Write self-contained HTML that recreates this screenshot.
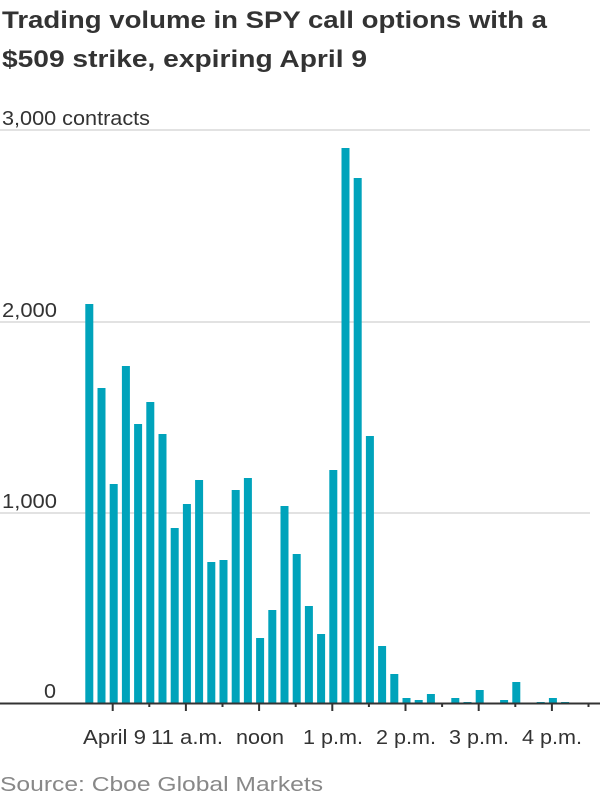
<!DOCTYPE html>
<html><head><meta charset="utf-8"><style>html,body{margin:0;padding:0;background:#fff;}svg{display:block}</style></head>
<body>
<svg width="600" height="800" viewBox="0 0 600 800" xmlns="http://www.w3.org/2000/svg" font-family="Liberation Sans, sans-serif">
<text x="2" y="28" font-size="24" font-weight="bold" fill="#333" textLength="545" lengthAdjust="spacingAndGlyphs">Trading volume in SPY call options with a</text>
<text x="2" y="67" font-size="24" font-weight="bold" fill="#333" textLength="365" lengthAdjust="spacingAndGlyphs">$509 strike, expiring April 9</text>
<g stroke="#e2e2e2" stroke-width="2">
<line x1="0" y1="130" x2="590" y2="130"/>
<line x1="0" y1="322" x2="590" y2="322"/>
<line x1="0" y1="513" x2="590" y2="513"/>
</g>
<g font-size="20" fill="#333">
<text x="2" y="125" textLength="148" lengthAdjust="spacingAndGlyphs">3,000 contracts</text>
<text x="2" y="317" textLength="55" lengthAdjust="spacingAndGlyphs">2,000</text>
<text x="2" y="508" textLength="55" lengthAdjust="spacingAndGlyphs">1,000</text>
<text x="44" y="698" textLength="12" lengthAdjust="spacingAndGlyphs">0</text>
</g>
<g fill="#00a3bb">
<rect x="85.3" y="304" width="8" height="400"/>
<rect x="97.5" y="388" width="8" height="316"/>
<rect x="109.7" y="484" width="8" height="220"/>
<rect x="121.9" y="366" width="8" height="338"/>
<rect x="134.1" y="424" width="8" height="280"/>
<rect x="146.3" y="402" width="8" height="302"/>
<rect x="158.5" y="434" width="8" height="270"/>
<rect x="170.7" y="528" width="8" height="176"/>
<rect x="182.9" y="504" width="8" height="200"/>
<rect x="195.1" y="480" width="8" height="224"/>
<rect x="207.3" y="562" width="8" height="142"/>
<rect x="219.5" y="560" width="8" height="144"/>
<rect x="231.7" y="490" width="8" height="214"/>
<rect x="243.9" y="478" width="8" height="226"/>
<rect x="256.1" y="638" width="8" height="66"/>
<rect x="268.3" y="610" width="8" height="94"/>
<rect x="280.5" y="506" width="8" height="198"/>
<rect x="292.7" y="554" width="8" height="150"/>
<rect x="304.9" y="606" width="8" height="98"/>
<rect x="317.1" y="634" width="8" height="70"/>
<rect x="329.3" y="470" width="8" height="234"/>
<rect x="341.5" y="148" width="8" height="556"/>
<rect x="353.7" y="178" width="8" height="526"/>
<rect x="365.9" y="436" width="8" height="268"/>
<rect x="378.1" y="646" width="8" height="58"/>
<rect x="390.3" y="674" width="8" height="30"/>
<rect x="402.5" y="698" width="8" height="6"/>
<rect x="414.7" y="700" width="8" height="4"/>
<rect x="426.9" y="694" width="8" height="10"/>
<rect x="451.3" y="698" width="8" height="6"/>
<rect x="463.5" y="702" width="8" height="2"/>
<rect x="475.7" y="690" width="8" height="14"/>
<rect x="500.1" y="700" width="8" height="4"/>
<rect x="512.3" y="682" width="8" height="22"/>
<rect x="536.7" y="702" width="8" height="2"/>
<rect x="548.9" y="698" width="8" height="6"/>
<rect x="561.1" y="702" width="8" height="2"/>
</g>
<line x1="0" y1="703.5" x2="600" y2="703.5" stroke="#333" stroke-width="2"/>
<g stroke="#333" stroke-width="2">
<line x1="112.7" y1="703" x2="112.7" y2="711"/>
<line x1="185.9" y1="703" x2="185.9" y2="711"/>
<line x1="259.1" y1="703" x2="259.1" y2="711"/>
<line x1="332.3" y1="703" x2="332.3" y2="711"/>
<line x1="405.5" y1="703" x2="405.5" y2="711"/>
<line x1="478.7" y1="703" x2="478.7" y2="711"/>
<line x1="551.9" y1="703" x2="551.9" y2="711"/>
<line x1="149.3" y1="703" x2="149.3" y2="707"/>
<line x1="222.5" y1="703" x2="222.5" y2="707"/>
<line x1="295.7" y1="703" x2="295.7" y2="707"/>
<line x1="368.9" y1="703" x2="368.9" y2="707"/>
<line x1="442.1" y1="703" x2="442.1" y2="707"/>
<line x1="515.3" y1="703" x2="515.3" y2="707"/>
<line x1="588.5" y1="703" x2="588.5" y2="707"/>
</g>
<g font-size="20" fill="#333">
<text x="83" y="744" textLength="63" lengthAdjust="spacingAndGlyphs">April 9</text>
<text x="151" y="744" textLength="72" lengthAdjust="spacingAndGlyphs">11 a.m.</text>
<text x="236" y="744" textLength="48" lengthAdjust="spacingAndGlyphs">noon</text>
<text x="303" y="744" textLength="60" lengthAdjust="spacingAndGlyphs">1 p.m.</text>
<text x="376" y="744" textLength="60" lengthAdjust="spacingAndGlyphs">2 p.m.</text>
<text x="449" y="744" textLength="60" lengthAdjust="spacingAndGlyphs">3 p.m.</text>
<text x="522" y="744" textLength="60" lengthAdjust="spacingAndGlyphs">4 p.m.</text>
</g>
<text x="0" y="791" font-size="20" fill="#888" textLength="323" lengthAdjust="spacingAndGlyphs">Source: Cboe Global Markets</text>
</svg>
</body></html>
